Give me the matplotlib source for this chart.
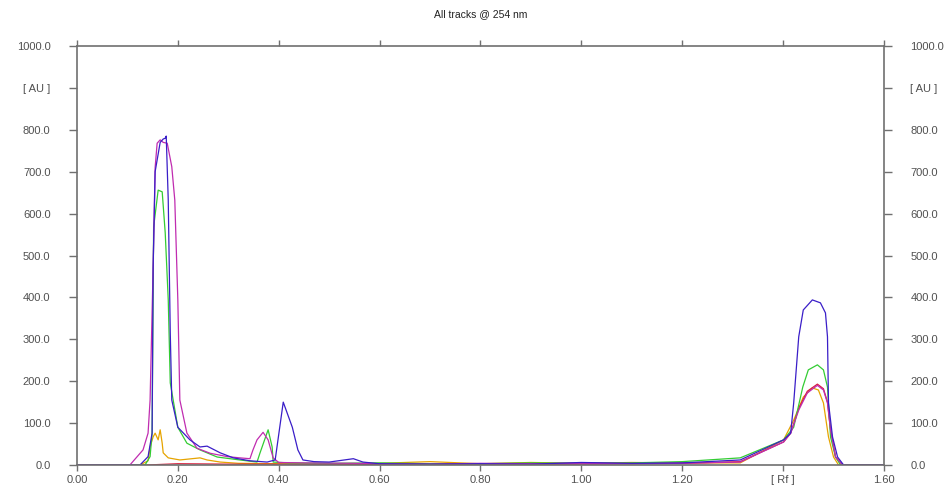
import matplotlib.pyplot as plt

# densitogram, all tracks at 254 nm

blue_rf = [0.00, 0.125, 0.141, 0.149, 0.151, 0.155, 0.165, 0.171, 0.175, 0.177, 0.181, 0.185, 0.188, 0.200,
           0.224, 0.244, 0.258, 0.284, 0.310, 0.343, 0.377, 0.393, 0.409, 0.427, 0.438, 0.448, 0.470,
           0.500, 0.548, 0.567, 0.600, 0.700, 0.800, 0.900, 1.000, 1.100, 1.200, 1.315, 1.401, 1.415,
           1.421, 1.431, 1.440, 1.458, 1.474, 1.484, 1.488, 1.490, 1.498, 1.508, 1.520, 1.600]
blue_au = [0, 0, 20, 76, 470, 700, 770, 778, 780, 785, 632, 315, 155, 90,
           60, 43, 45, 29, 17, 10, 7, 12, 150, 90, 36, 12, 8,
           7, 15, 7, 3, 2, 3, 2, 6, 4, 5, 12, 60, 76,
           148, 306, 370, 394, 387, 363, 306, 148, 67, 19, 0, 0]

magenta_rf = [0.00, 0.105, 0.131, 0.141, 0.145, 0.151, 0.155, 0.159, 0.165, 0.171, 0.179, 0.188, 0.194,
              0.200, 0.204, 0.218, 0.238, 0.264, 0.298, 0.323, 0.343, 0.349, 0.357, 0.369, 0.379,
              0.389, 0.400, 0.450, 0.550, 0.600, 0.700, 0.800, 0.900, 1.000, 1.100, 1.200, 1.315,
              1.401, 1.415, 1.431, 1.448, 1.468, 1.480, 1.488, 1.494, 1.504, 1.518, 1.600]
magenta_au = [0, 0, 36, 76, 155, 470, 710, 768, 776, 770, 768, 712, 632,
              394, 155, 76, 40, 28, 20, 17, 15, 36, 60, 78, 60,
              17, 6, 5, 4, 3, 2, 4, 3, 4, 3, 4, 7,
              55, 76, 131, 172, 190, 179, 148, 84, 19, 0, 0]

green_rf = [0.00, 0.135, 0.145, 0.149, 0.152, 0.161, 0.169, 0.175, 0.181, 0.185, 0.200, 0.218, 0.244,
            0.278, 0.323, 0.357, 0.363, 0.379, 0.387, 0.389, 0.420, 0.500, 0.600, 0.700, 0.800,
            0.900, 1.000, 1.100, 1.200, 1.315, 1.401, 1.421, 1.439, 1.450, 1.468, 1.480, 1.488,
            1.494, 1.504, 1.514, 1.600]
green_au = [0, 0, 20, 76, 568, 656, 652, 554, 394, 196, 90, 52, 36,
            19, 12, 7, 29, 84, 43, 7, 5, 4, 5, 3, 3,
            5, 4, 5, 8, 17, 60, 90, 186, 227, 239, 227, 186,
            67, 19, 0, 0]

orange_rf = [0.00, 0.125, 0.141, 0.145, 0.151, 0.155, 0.161, 0.165, 0.169, 0.171, 0.181, 0.204, 0.244,
             0.258, 0.284, 0.320, 0.400, 0.500, 0.600, 0.700, 0.800, 0.900, 1.000, 1.100, 1.200,
             1.315, 1.401, 1.421, 1.440, 1.458, 1.470, 1.480, 1.490, 1.500, 1.510, 1.600]
orange_au = [0, 0, 10, 43, 67, 76, 60, 84, 52, 29, 17, 12, 17,
             12, 7, 4, 3, 2, 4, 8, 3, 6, 4, 6, 5,
             5, 60, 107, 162, 184, 179, 148, 67, 19, 0, 0]

red_rf = [0.00, 0.140, 0.200, 0.300, 0.400, 0.600, 0.800, 1.000, 1.200, 1.315, 1.401, 1.415, 1.431,
          1.448, 1.468, 1.480, 1.488, 1.494, 1.504, 1.518, 1.600]
red_au = [0, 0, 3, 2, 2, 1, 2, 2, 4, 8, 55, 76, 135,
          176, 193, 182, 150, 86, 19, 0, 0]

x_ticks = [0.0, 0.2, 0.4, 0.6, 0.8, 1.0, 1.2, 1.4, 1.6]
x_labels = ['0.00', '0.20', '0.40', '0.60', '0.80', '1.00', '1.20', '[ Rf ]', '1.60']
y_ticks = [0, 100, 200, 300, 400, 500, 600, 700, 800, 900, 1000]
y_labels = ['0.0', '100.0', '200.0', '300.0', '400.0', '500.0', '600.0', '700.0', '800.0', '[ AU ]', '1000.0']

plt.rcParams['font.family'] = ['Liberation Sans', 'DejaVu Sans']

fig = plt.figure(figsize=(9.5, 4.87), dpi=100)
ax = fig.add_axes([0.081, 0.0452, 0.8495, 0.8603])

ax.plot(orange_rf, orange_au, color='#e6a400', lw=0.9)
ax.plot(red_rf, red_au, color='#d81e3c', lw=0.9)
ax.plot(green_rf, green_au, color='#33cc33', lw=0.9)
ax.plot(magenta_rf, magenta_au, color='#c02cb0', lw=0.9)
ax.plot(blue_rf, blue_au, color='#3a1ec8', lw=0.9)

ax.set_xlim(0, 1.6)
ax.set_ylim(0, 1000)

ax.set_xticks(x_ticks)
ax.set_xticklabels(x_labels)
ax.set_yticks(y_ticks)
ax.set_yticklabels(y_labels)

for s in ax.spines.values():
    s.set_color('#707070')
    s.set_linewidth(1.2)

ax.tick_params(axis='y', which='both', direction='out', length=6, width=1, color='#707070',
               left=True, right=True, labelleft=True, labelright=True,
               labelsize=8, labelcolor='#505050', pad=13)
ax.tick_params(axis='x', which='both', direction='out', length=4, width=1, color='#707070',
               top=True, bottom=True, labelsize=8, labelcolor='#505050', pad=3)

ax.set_title('All tracks @ 254 nm', fontsize=7.5, color='#222222', pad=21)

fig.savefig('out.png', dpi=100)
